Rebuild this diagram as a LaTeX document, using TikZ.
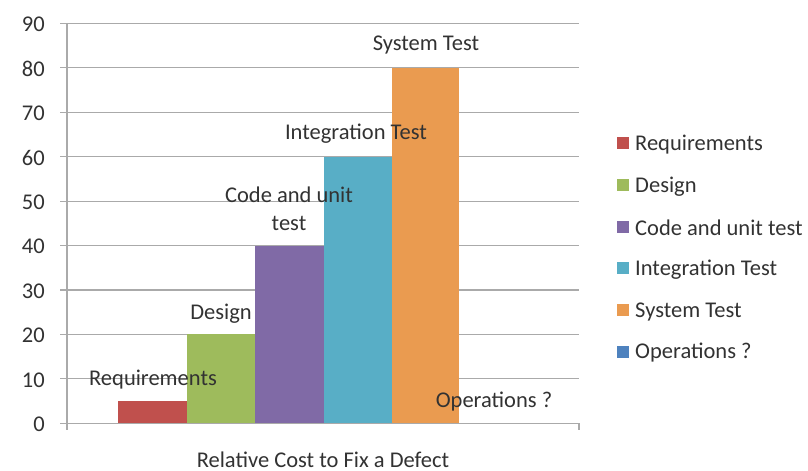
\documentclass[tikz,border=0pt]{standalone}
\usepackage{fontspec}
\setmainfont{Carlito}
\definecolor{cReq}{RGB}{192,80,77}
\definecolor{cDes}{RGB}{158,187,92}
\definecolor{cCode}{RGB}{128,106,166}
\definecolor{cInt}{RGB}{88,174,198}
\definecolor{cSys}{RGB}{234,155,80}
\definecolor{cOps}{RGB}{78,130,190}
\definecolor{grid}{RGB}{170,170,170}
\definecolor{txt}{RGB}{50,50,50}
\begin{document}
\begin{tikzpicture}[x=1bp,y=-1bp,
  lbl/.style={font=\fontsize{22.5bp}{28bp}\selectfont, text=txt, inner sep=0pt, align=center},
  ytick/.style={lbl, anchor=east},
  legsq/.style={minimum size=12bp, inner sep=0pt},
  legtxt/.style={lbl, anchor=west},
  gridline/.style={draw=grid, line width=1.1bp}]
\useasboundingbox (0,0) rectangle (808,471);
% grid and ticks
\foreach \k in {0,...,9}{
  \draw[gridline] (60,{423.3-44.44*\k}) -- (579,{423.3-44.44*\k});
  \node[ytick] (y\k) at (45,{424.5-44.44*\k}) {\number\numexpr\k*10\relax};
}
\draw[gridline] (67,23) -- (67,430);
\draw[gridline] (579,423.3) -- (579,430);
% bars
\fill[cReq]  (118,423.3) rectangle (187,{423.3-44.44*0.5});
\fill[cDes]  (187,423.3) rectangle (255,{423.3-44.44*2});
\fill[cCode] (255,423.3) rectangle (324,{423.3-44.44*4});
\fill[cInt]  (324,423.3) rectangle (392,{423.3-44.44*6});
\fill[cSys]  (392,423.3) rectangle (459,{423.3-44.44*8});
% data labels
\node[lbl] (lReq) at (153,379.5) {Requirements};
\node[lbl] (lDes) at (221,313.5) {Design};
\node[lbl] (lCode) at (289,208.5) {Code and unit\\test};
\node[lbl] (lInt) at (356,133.5) {Integration Test};
\node[lbl] (lSys) at (426,45) {System Test};
\node[lbl] (lOps) at (494,401.5) {Operations ?};
% axis title
\node[lbl] (xt) at (323,459.5) {Relative Cost to Fix a Defect};
% legend
\foreach \c/\t/\yy [count=\i] in {cReq/Requirements/143.3, cDes/Design/185, cCode/Code and unit test/226.7, cInt/Integration Test/268.3, cSys/System Test/310.5, cOps/Operations ?/351.7}{
  \node[legsq, fill=\c] (sq\i) at (623,\yy) {};
  \node[legtxt] (lt\i) at (635,\yy+1.2) {\t};
}
\end{tikzpicture}
\end{document}
